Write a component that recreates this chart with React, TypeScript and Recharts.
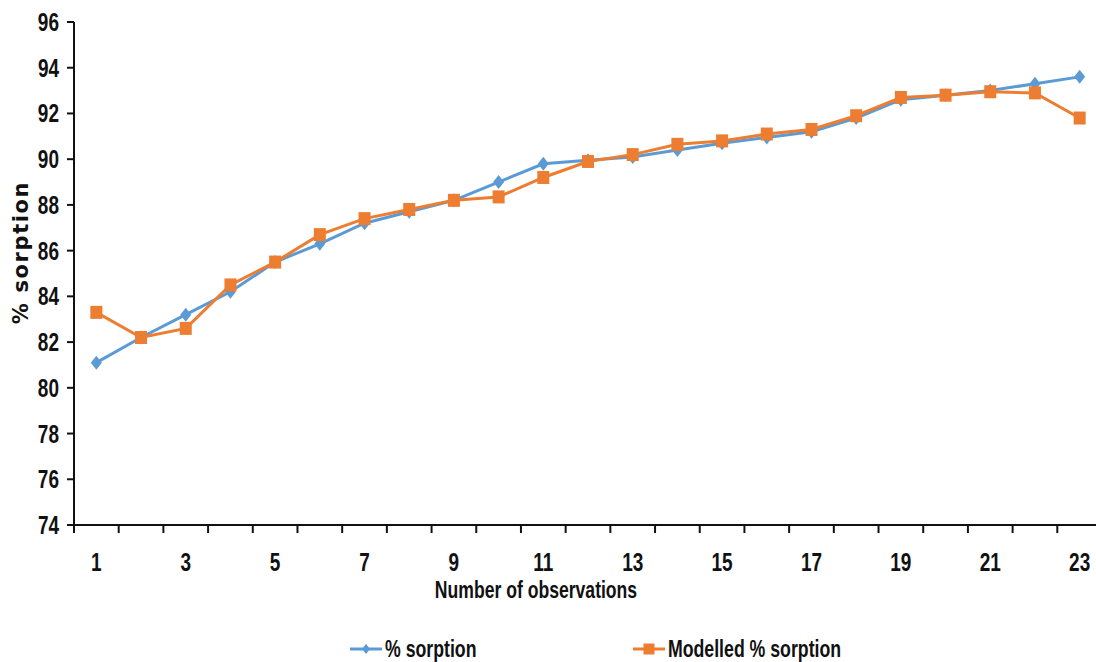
import React from 'react';
import { LineChart, Line, XAxis, YAxis, Legend } from 'recharts';

const observations = [1, 2, 3, 4, 5, 6, 7, 8, 9, 10, 11, 12, 13, 14, 15, 16, 17, 18, 19, 20, 21, 22, 23];
const sorption = [81.1, 82.2, 83.2, 84.2, 85.5, 86.3, 87.2, 87.7, 88.2, 89.0, 89.8, 89.95, 90.1, 90.4, 90.7, 90.95, 91.2, 91.8, 92.6, 92.8, 93.0, 93.3, 93.6];
const modelled = [83.3, 82.2, 82.6, 84.5, 85.5, 86.7, 87.4, 87.8, 88.2, 88.35, 89.2, 89.9, 90.2, 90.65, 90.8, 91.1, 91.3, 91.9, 92.7, 92.8, 92.95, 92.9, 91.8];
const yTicks = [74, 76, 78, 80, 82, 84, 86, 88, 90, 92, 94, 96];
const xLabels = [1, 3, 5, 7, 9, 11, 13, 15, 17, 19, 21, 23];
const xBounds = [0.5, 1.5, 2.5, 3.5, 4.5, 5.5, 6.5, 7.5, 8.5, 9.5, 10.5, 11.5, 12.5, 13.5, 14.5, 15.5, 16.5, 17.5, 18.5, 19.5, 20.5, 21.5, 22.5, 23.5];
const seriesNames = ['% sorption', 'Modelled % sorption'];

const data = observations.map((obs, i) => ({ obs, sorption: sorption[i], modelled: modelled[i] }));

const BLUE = '#5B9BD5';
const ORANGE = '#ED7D31';
const INK = '#111';
const FONT = 'Arial, "Liberation Sans", sans-serif';

// the reference type is tall and condensed, so squeeze Arial horizontally
const squeeze = (s: number, origin: string) => ({
    transformBox: 'fill-box' as const,
    transformOrigin: origin,
    transform: `scaleX(${s})`
});

const Diamond = (props: any) => {
    const { cx, cy, fill } = props;
    if (cx == null || cy == null) return null;
    return <polygon points={`${cx},${cy - 7} ${cx + 5.5},${cy} ${cx},${cy + 7} ${cx - 5.5},${cy}`} fill={fill} />;
};

const Square = (props: any) => {
    const { cx, cy, fill } = props;
    if (cx == null || cy == null) return null;
    return <rect x={cx - 6} y={cy - 6.5} width={12} height={13} fill={fill} />;
};

const XTick = (props: any) => {
    const { x, y, payload } = props;
    const v = payload.value;
    if (Number.isInteger(v)) {
        return (
            <text x={x} y={y + 46} textAnchor="middle" fontFamily={FONT} fontWeight="bold" fontSize={25} fill={INK}
                style={squeeze(0.76, 'center')}>
                {v}
            </text>
        );
    }
    return <line x1={x} x2={x} y1={y} y2={y + 8} stroke={INK} strokeWidth={2} />;
};

const YTick = (props: any) => {
    const { x, y, payload } = props;
    return (
        <text x={x} y={y + 9} textAnchor="end" fontFamily={FONT} fontWeight="bold" fontSize={25} fill={INK}
            style={squeeze(0.76, 'right center')}>
            {payload.value}
        </text>
    );
};

const XTitle = (props: any) => {
    const { viewBox } = props;
    if (!viewBox) return null;
    return (
        <text x={viewBox.x + viewBox.width / 2 - 52} y={viewBox.y + 73} textAnchor="middle" fontFamily={FONT}
            fontWeight="bold" fontSize={23} fill={INK} style={squeeze(0.765, 'center')}>
            Number of observations
        </text>
    );
};

const YTitle = (props: any) => {
    const { viewBox } = props;
    if (!viewBox) return null;
    const cx = viewBox.x + 28;
    const cy = viewBox.y + viewBox.height / 2 - 21;
    return (
        <text x={cx} y={cy} transform={`rotate(-90 ${cx} ${cy})`} textAnchor="middle" fontFamily="'DejaVu Sans', sans-serif"
            fontWeight="bold" fontSize={21} letterSpacing={1.6} fill={INK}>
            {seriesNames[0]}
        </text>
    );
};

const LegendContent = () => {
    const items = [
        { name: seriesNames[0], color: BLUE, marker: 'diamond', left: 350 },
        { name: seriesNames[1], color: ORANGE, marker: 'square', left: 633 }
    ];
    return (
        <svg width={1096} height={40} style={{ display: 'block' }}>
            {items.map((it) => (
                <g key={it.name}>
                    <line x1={it.left} x2={it.left + 32} y1={27} y2={27} stroke={it.color} strokeWidth={3} />
                    {it.marker === 'diamond' ? (
                        <polygon points={`${it.left + 16},22 ${it.left + 20},27 ${it.left + 16},32 ${it.left + 12},27`} fill={it.color} />
                    ) : (
                        <rect x={it.left + 10.5} y={21.5} width={11} height={11} fill={it.color} />
                    )}
                    <text x={it.left + 35} y={35} fontFamily={FONT} fontWeight="bold" fontSize={23} fill={INK}
                        style={squeeze(0.77, 'left center')}>
                        {it.name}
                    </text>
                </g>
            ))}
        </svg>
    );
};

export default function App() {
    return (
        <div style={{ position: 'absolute', left: 0, top: 0, width: 1096, height: 662, overflow: 'hidden', background: '#fff' }}>
            <LineChart width={1110} height={662} data={data} margin={{ top: 22, right: 8, left: 0, bottom: 17 }}>
                <XAxis
                    dataKey="obs"
                    type="number"
                    domain={[0.5, 23.5]}
                    ticks={[...xBounds, ...xLabels]}
                    interval={0}
                    tickSize={0}
                    tickMargin={0}
                    tickLine={false}
                    tick={<XTick />}
                    axisLine={{ stroke: INK, strokeWidth: 2 }}
                    height={80}
                    label={<XTitle />}
                />
                <YAxis
                    type="number"
                    domain={[74, 96]}
                    ticks={yTicks}
                    interval={0}
                    width={74}
                    tickSize={7}
                    tickMargin={8}
                    tickLine={{ stroke: INK, strokeWidth: 2 }}
                    axisLine={{ stroke: INK, strokeWidth: 2 }}
                    tick={<YTick />}
                    label={<YTitle />}
                />
                <Legend verticalAlign="bottom" height={40} wrapperStyle={{ bottom: 0, left: 0, width: 1096 }} content={<LegendContent />} />
                <Line
                    dataKey="sorption"
                    name={seriesNames[0]}
                    stroke={BLUE}
                    strokeWidth={3}
                    dot={<Diamond fill={BLUE} />}
                    activeDot={false}
                    isAnimationActive={false}
                />
                <Line
                    dataKey="modelled"
                    name={seriesNames[1]}
                    stroke={ORANGE}
                    strokeWidth={3}
                    dot={<Square fill={ORANGE} />}
                    activeDot={false}
                    isAnimationActive={false}
                />
            </LineChart>
        </div>
    );
}
